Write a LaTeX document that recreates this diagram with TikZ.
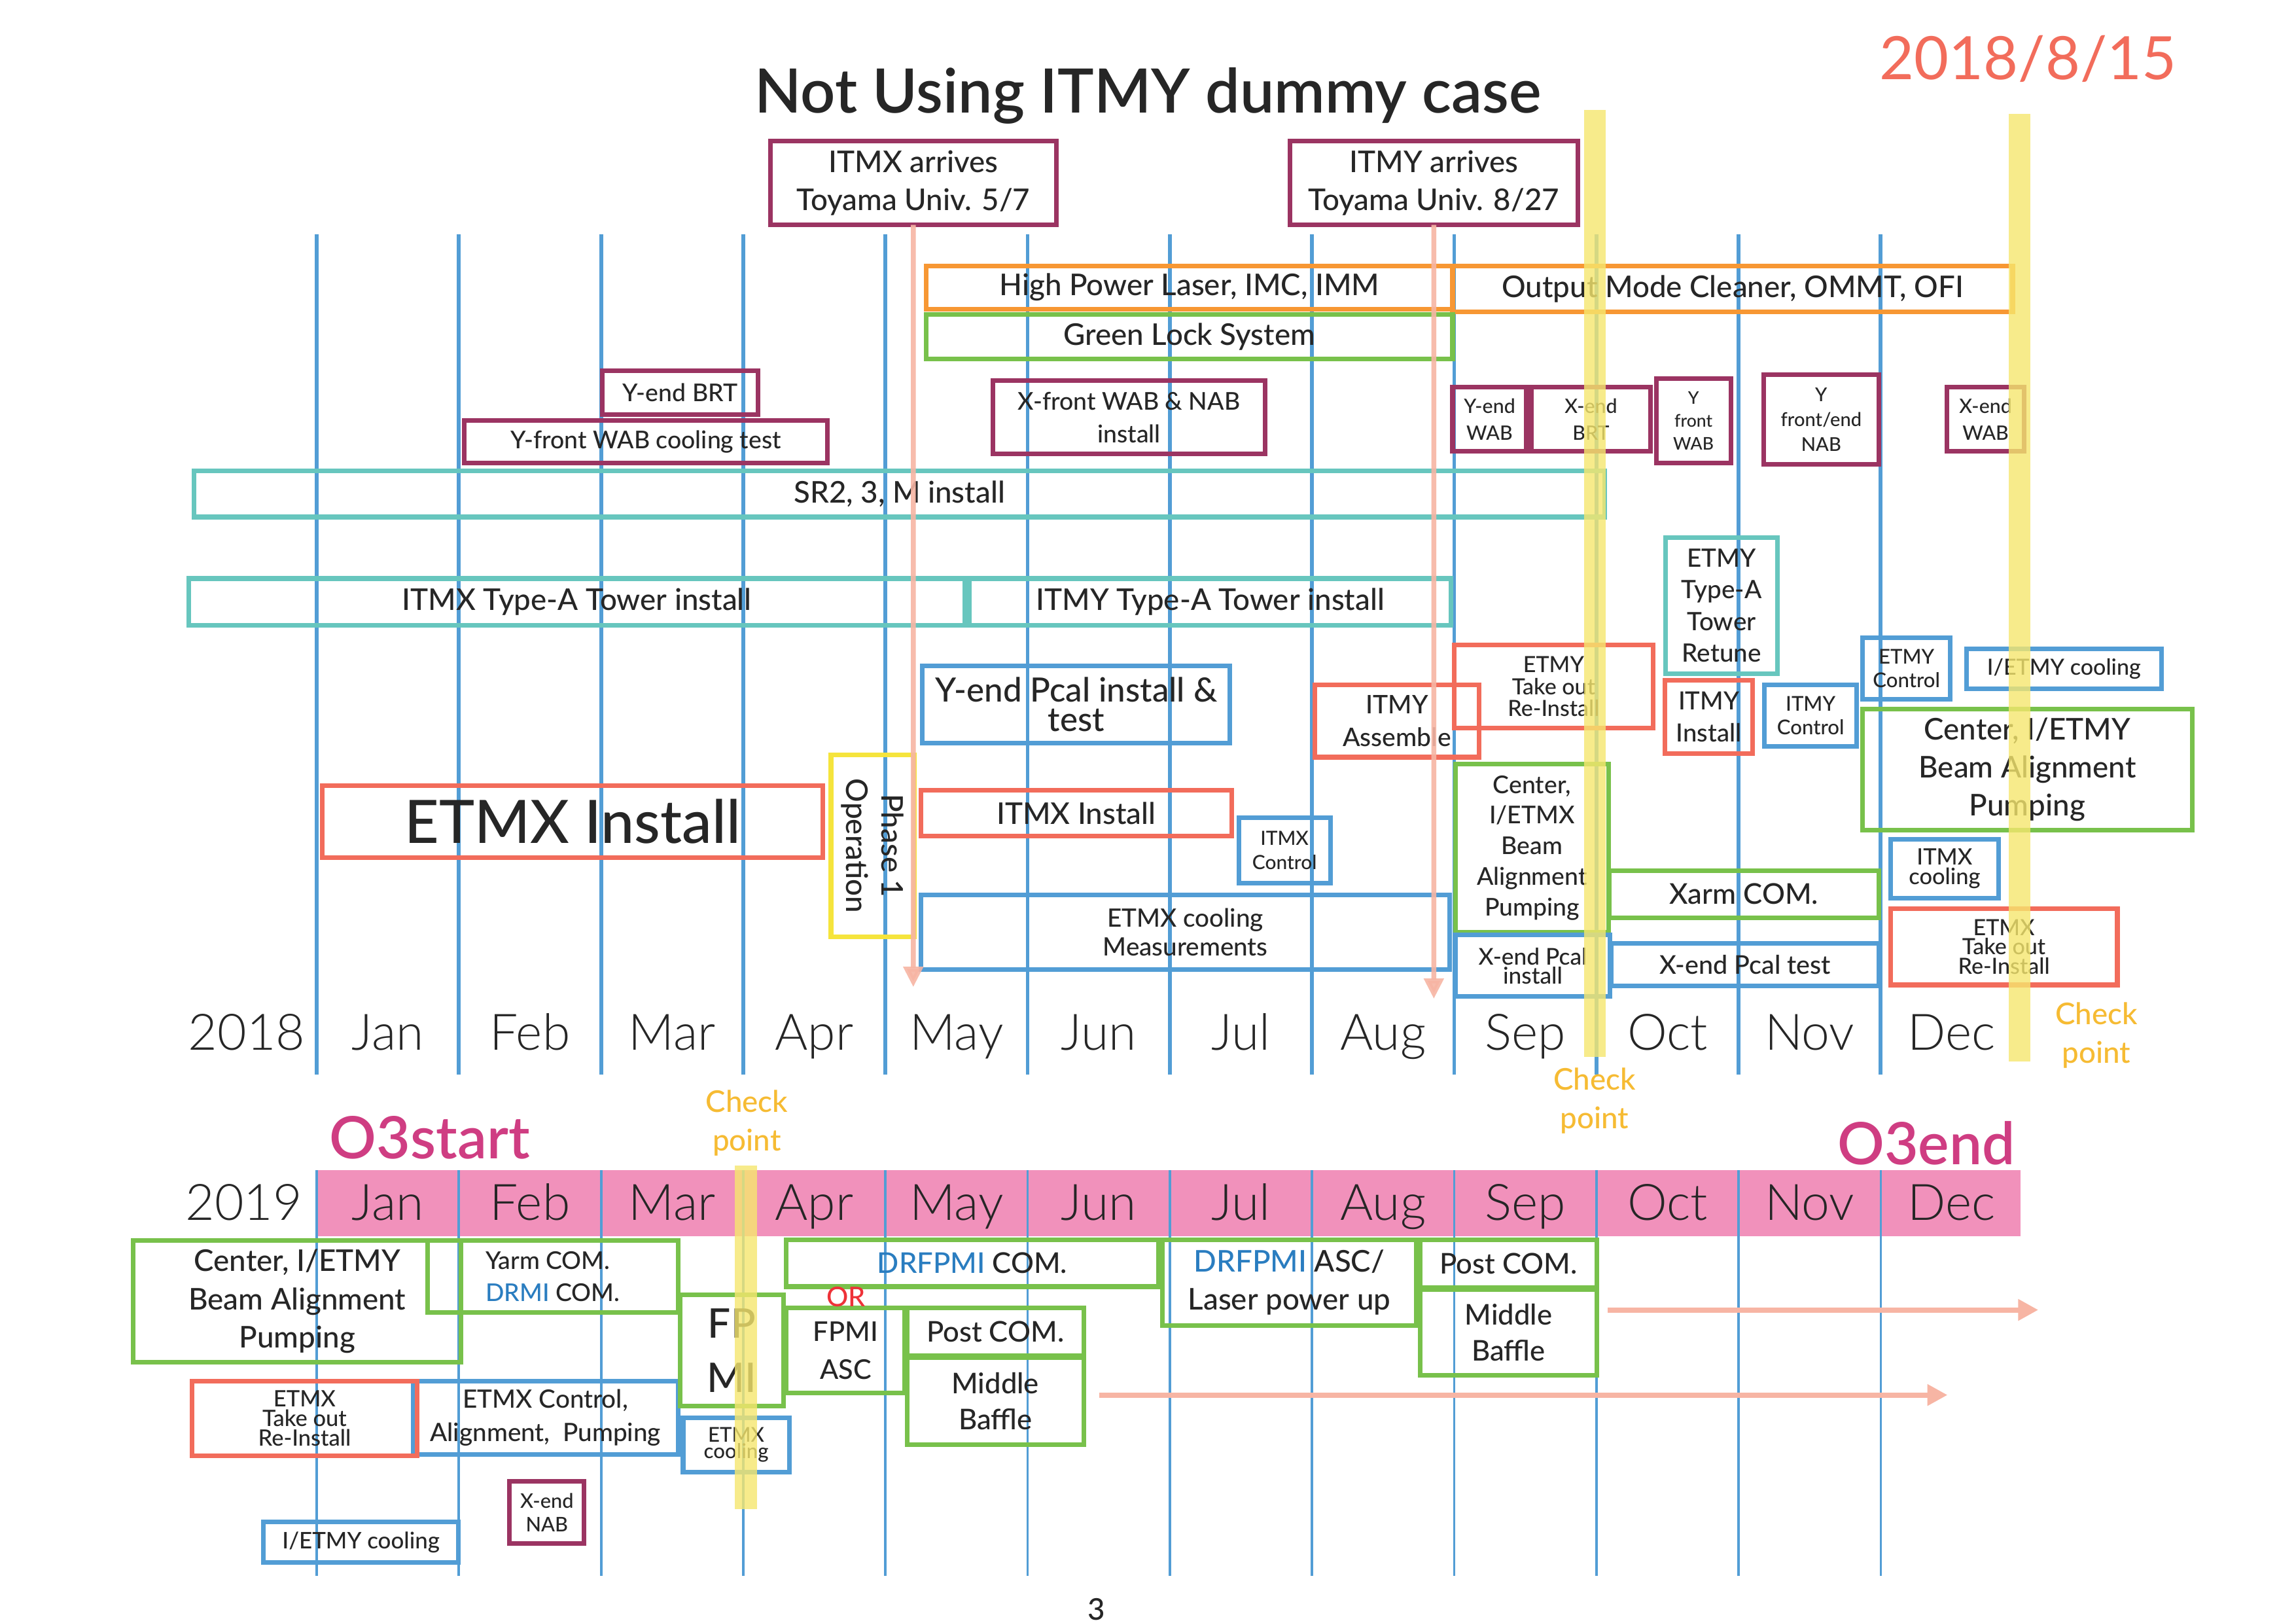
\documentclass[tikz,border=0pt]{standalone}
\usepackage{fontspec}
\IfFontExistsTF{Lato Medium}{\setmainfont{Lato Medium}}{\setmainfont{Lato}}
\newfontfamily\regfont{Lato}
\IfFontExistsTF{Lato Light}{\newfontfamily\lightfont{Lato Light}}{\newfontfamily\lightfont{Lato}}
\IfFontExistsTF{Lato Semibold}{\newfontfamily\semifont{Lato Semibold}}{\newfontfamily\semifont{Lato}[UprightFont=*-Bold]}
\usetikzlibrary{fit,arrows.meta}

\definecolor{ink}{RGB}{38,38,38}
\definecolor{cblue}{RGB}{82,157,213}
\definecolor{cpurple}{RGB}{155,52,98}
\definecolor{corange}{RGB}{247,151,51}
\definecolor{cgreen}{RGB}{120,193,75}
\definecolor{cteal}{RGB}{103,198,190}
\definecolor{cred}{RGB}{242,108,91}
\definecolor{cyellow}{RGB}{245,228,60}
\definecolor{yband}{RGB}{246,231,110}
\definecolor{csalmon}{RGB}{247,181,164}
\definecolor{cmag}{RGB}{207,61,130}
\definecolor{cchk}{RGB}{246,187,51}
\definecolor{cpink}{RGB}{241,145,187}
\definecolor{tblue}{RGB}{42,125,192}
\definecolor{cor}{RGB}{238,50,56}

\newcommand\fs[2]{\fontsize{#1}{#2}\selectfont}

\tikzset{
  boxline/.style={line width=1.7pt},
  txt/.style={align=center, inner sep=0pt, text=ink},
  monthlab/.style={font=\lightfont\fs{18.5}{22}, text=ink, anchor=base, inner sep=0pt},
  chk/.style={font=\fs{11}{14}, text=cchk, anchor=base, inner sep=0pt},
  mline18/.style={draw=cblue, line width=1.4pt},
  mline19/.style={draw=cblue, line width=0.9pt},
  sarrow/.style={draw=csalmon, line width=1.8pt, -{Triangle[length=7.5pt,width=7pt]}},
  harrow/.style={draw=csalmon, line width=1.9pt, -{Triangle[length=7.4pt,width=7.5pt]}},
  ybandfill/.style={fill=yband, opacity=0.8},
}

% box with centred text
\newcommand\bx[9]{%
  \node[draw=#2, boxline, fit={(#3,#4) (#5,#6)}, inner sep=0pt, outer sep=0pt] (#1) {};
  \node[txt, font=\fs{#7}{#8}] (#1t) at (#1.center) {#9};}
% box only
\newcommand\bxo[6]{%
  \node[draw=#2, boxline, fit={(#3,#4) (#5,#6)}, inner sep=0pt, outer sep=0pt] (#1) {};}

\begin{document}
\begin{tikzpicture}[x=0.018941cm, y=-0.018941cm]
\useasboundingbox (0,0) rectangle (1568,1108);
\fill[white] (0,0) rectangle (1568,1108);

% ---------- 2019 pink band ----------
\fill[cpink] (216.3,799) rectangle (1380,844);

% ---------- month lines ----------
\foreach \i in {0,...,11} {
  \draw[mline18] ({216.3+97.1*\i},160) -- ({216.3+97.1*\i},733.5);
  \draw[mline19] ({216.3+97.1*\i},799) -- ({216.3+97.1*\i},1076);
}

% ---------- month labels ----------
\node[monthlab] (y2018) at (168.5,717) {2018};
\node[monthlab] (y2019) at (166.5,833) {2019};
\foreach \m [count=\i] in {Jan,Feb,Mar,Apr,May,Jun,Jul,Aug,Sep,Oct,Nov,Dec} {
  \node[monthlab] (ma\i) at ({216.3+97.1*(\i-0.5)},717) {\m};
  \node[monthlab] (mb\i) at ({216.3+97.1*(\i-0.5)},833) {\m};
}

% ---------- title and date ----------
\node[anchor=base, inner sep=0pt, font=\semifont\fs{22.5}{27}, text=ink] (title) at (784,77) {Not Using ITMY dummy case};
\node[anchor=base, inner sep=0pt, font=\regfont\fs{22}{26}, text=cred] (date) at (1385,54.4) {2018/8/15};

% ---------- 2018 boxes ----------
\bx{itmxarr}{cpurple}{526}{96.5}{721.5}{153.5}{11}{13.8}{ITMX arrives\\Toyama Univ. 5/7}
\bx{itmyarr}{cpurple}{881}{96.5}{1077.5}{153.5}{11}{13.8}{ITMY arrives\\Toyama Univ. 8/27}
\bx{hpl}{corange}{632.5}{181.5}{992}{211}{11}{13}{High Power Laser, IMC, IMM}
\bx{omc}{corange}{992}{181.5}{1374.5}{213}{11}{13}{Output Mode Cleaner, OMMT, OFI}
\bx{gls}{cgreen}{632.5}{214.5}{992}{245}{11}{13}{Green Lock System}
\bx{yendbrt}{cpurple}{411.5}{253}{517.5}{283}{9}{11}{Y-end BRT}
\bx{yfwab}{cpurple}{317}{287}{565}{316}{9}{11}{Y-front WAB cooling test}
\bx{xfwab}{cpurple}{678}{260}{864}{310}{9}{12}{X-front WAB \& NAB\\install}
\bx{yendwab}{cpurple}{992}{264.5}{1042.5}{308}{7.3}{10}{Y-end\\WAB}
\bx{xendbrt}{cpurple}{1046}{264.5}{1127}{308}{7.3}{10}{X-end\\BRT}
\bx{yfrontwab}{cpurple}{1131}{258.5}{1182}{316}{6.4}{8.4}{Y\\front\\WAB}
\bx{yfenab}{cpurple}{1204.5}{256}{1283}{317}{7}{9.2}{Y\\front/end\\NAB}
\bx{xendwab}{cpurple}{1329.5}{264.5}{1382.5}{308}{7.3}{10}{X-end\\WAB}
\bx{sr2}{cteal}{132.5}{321.5}{1096}{353}{11}{13}{SR2, 3, M install}
\bx{itmxta}{cteal}{129}{395}{659}{427}{11}{13}{ITMX Type-A Tower install}
\bx{itmyta}{cteal}{662}{395}{991}{427}{11}{13}{ITMY Type-A Tower install}
\bx{etmyta}{cteal}{1137.5}{367}{1214}{460}{9.3}{11.7}{ETMY\\Type-A\\Tower\\Retune}
\bx{itmyasm}{cred}{898}{467.5}{1010}{517}{9.4}{12}{ITMY\\Assemble}
\bx{etmyto}{cred}{993}{440.5}{1129}{497}{8.2}{8}{ETMY\\Take out\\Re-Install}
\bx{itmyinst}{cred}{1137}{464.5}{1197}{514.5}{9.2}{11.7}{ITMY\\Install}
\bx{itmyctl}{cblue}{1205}{467.5}{1268}{509.5}{7.5}{8.7}{ITMY\\Control}
\bx{etmyctl}{cblue}{1272}{435.5}{1332}{477.5}{7.5}{8.7}{ETMY\\Control}
\bx{ietmycool}{cblue}{1343}{443}{1476}{470.5}{8.2}{10}{I/ETMY cooling}
\bx{cietmy}{cgreen}{1272}{484}{1497}{567}{11}{13.9}{Center, I/ETMY\\Beam Alignment\\Pumping}
\bx{itmxcool}{cblue}{1291}{573}{1365}{613.5}{8.3}{7.2}{ITMX\\cooling}
\bx{etmxto}{cred}{1291}{620.5}{1446}{672.5}{8.2}{6}{ETMX\\Take out\\Re-Install}
\bx{yendpcal}{cblue}{630}{454.5}{840}{507.5}{12.3}{10.7}{Y-end Pcal install \&\\test}
\bx{etmxinst}{cred}{220}{536.5}{562}{585.5}{22}{26}{ETMX Install}
\bxo{phase1}{cyellow}{567.5}{515.5}{624.5}{639.5}
\node[txt, rotate=-90, font=\fs{11}{13}] (phase1t) at (phase1.center) {Phase 1\\Operation};
\bx{itmxinst}{cred}{629}{539.5}{841}{571}{11}{13}{ITMX Install}
\bx{itmxctl}{cblue}{846}{558.5}{908.5}{603}{7.2}{9}{ITMX\\Control}
\bx{etmxcm}{cblue}{629}{611}{990}{662}{9.3}{10.7}{ETMX cooling\\Measurements}
\bx{cietmx}{cgreen}{994}{521.5}{1098.5}{636.5}{9}{11.3}{Center,\\I/ETMX\\Beam\\Alignment\\Pumping}
\bx{xarm}{cgreen}{1099}{594.5}{1283}{626.5}{10.5}{12}{Xarm COM.}
\bx{xendpcali}{cblue}{994}{638.5}{1099.5}{680.5}{8.5}{7}{X-end Pcal\\install}
\bx{xendpcalt}{cblue}{1100.5}{644}{1283}{673}{9.5}{11}{X-end Pcal test}

% ---------- 2019 boxes ----------
\bx{c19}{cgreen}{91}{847}{315}{930}{11}{14}{Center, I/ETMY\\Beam Alignment\\Pumping}
\bxo{yarm}{cgreen}{292}{847}{463}{896}
\node[txt, align=left, font=\fs{9}{11.8}] (yarmt) at (yarm.center) {Yarm COM.\\\textcolor{tblue}{DRMI} COM.};
\bx{etmxctl19}{cblue}{282}{943}{463}{993}{9.3}{12.3}{ETMX Control,\\Alignment,\ \ Pumping}
\bx{etmxto19}{cred}{131}{943}{285}{994}{8.3}{6}{ETMX\\Take out\\Re-Install}
\bx{fpmi}{cgreen}{464.5}{884}{535}{960}{15}{20}{FP\\MI}
\bx{etmxcool19}{cblue}{466.5}{968}{539}{1005}{7.5}{6}{ETMX\\cooling}
\bx{xendnab}{cpurple}{348}{1011.5}{399}{1054}{7.4}{8.8}{X-end\\NAB}
\bx{ietmycool19}{cblue}{180}{1039}{313}{1067}{8.4}{10}{I/ETMY cooling}
\bx{drfpmicom}{cgreen}{537}{846.5}{791}{878.5}{10.5}{12}{\textcolor{tblue}{DRFPMI} COM.}
\bx{fpmiasc}{cgreen}{537}{893}{618}{951}{10}{14}{FPMI\\ASC}
\bx{postcom1}{cgreen}{619.5}{893}{740}{925.5}{10.5}{12}{Post COM.}
\bx{midbaf1}{cgreen}{619.5}{927}{740}{986.5}{10.5}{13.2}{Middle\\Baffle}
\bx{drfpmiasc}{cgreen}{794}{846.5}{967}{905}{11}{14}{\textcolor{tblue}{DRFPMI} ASC/\\Laser power up}
\bx{postcom2}{cgreen}{970}{846.5}{1090.5}{879}{10.5}{12}{Post COM.}
\bx{midbaf2}{cgreen}{970}{880.5}{1090.5}{939}{10.5}{13.2}{Middle\\Baffle}
\node[anchor=base, inner sep=0pt, font=\fs{10}{12}, text=cor] (ortxt) at (577.7,892) {OR};

% ---------- arrows ----------
\coordinate (a1e) at (623.7,674);
\coordinate (a2e) at (979.2,682);
\draw[sarrow, opacity=0.9] (itmxarr.south) -- (a1e);
\draw[sarrow, opacity=0.9] (itmyarr.south) -- (a2e);
\coordinate (h1s) at (1098,894.4);
\coordinate (h1e) at (1392,894.4);
\coordinate (h2s) at (750.5,952.5);
\coordinate (h2e) at (1330,952.5);
\draw[harrow] (h1s) -- (h1e);
\draw[harrow] (h2s) -- (h2e);

% ---------- check point bands ----------
\fill[ybandfill] (1082,75.2) rectangle (1096.4,721.6);
\fill[ybandfill] (1371.7,77.7) rectangle (1386.5,724.6);
\fill[ybandfill] (502,796) rectangle (517,1030.6);

% ---------- labels ----------
\node[chk] (chk1a) at (510,759.4) {Check};
\node[chk] (chk1b) at (510,785.6) {point};
\node[chk] (chk2a) at (1089,744.4) {Check};
\node[chk] (chk2b) at (1089,770.8) {point};
\node[chk] (chk3a) at (1431.6,699.6) {Check};
\node[chk] (chk3b) at (1431.6,725.8) {point};
\node[anchor=base, inner sep=0pt, font=\semifont\fs{21.5}{26}, text=cmag] (o3s) at (293.5,791) {O3start};
\node[anchor=base, inner sep=0pt, font=\semifont\fs{21.5}{26}, text=cmag] (o3e) at (1315.5,795) {O3end};
\node[anchor=base, inner sep=0pt, font=\fs{11}{13}, text=ink] (pnum) at (749,1106) {3};
\end{tikzpicture}
\end{document}
